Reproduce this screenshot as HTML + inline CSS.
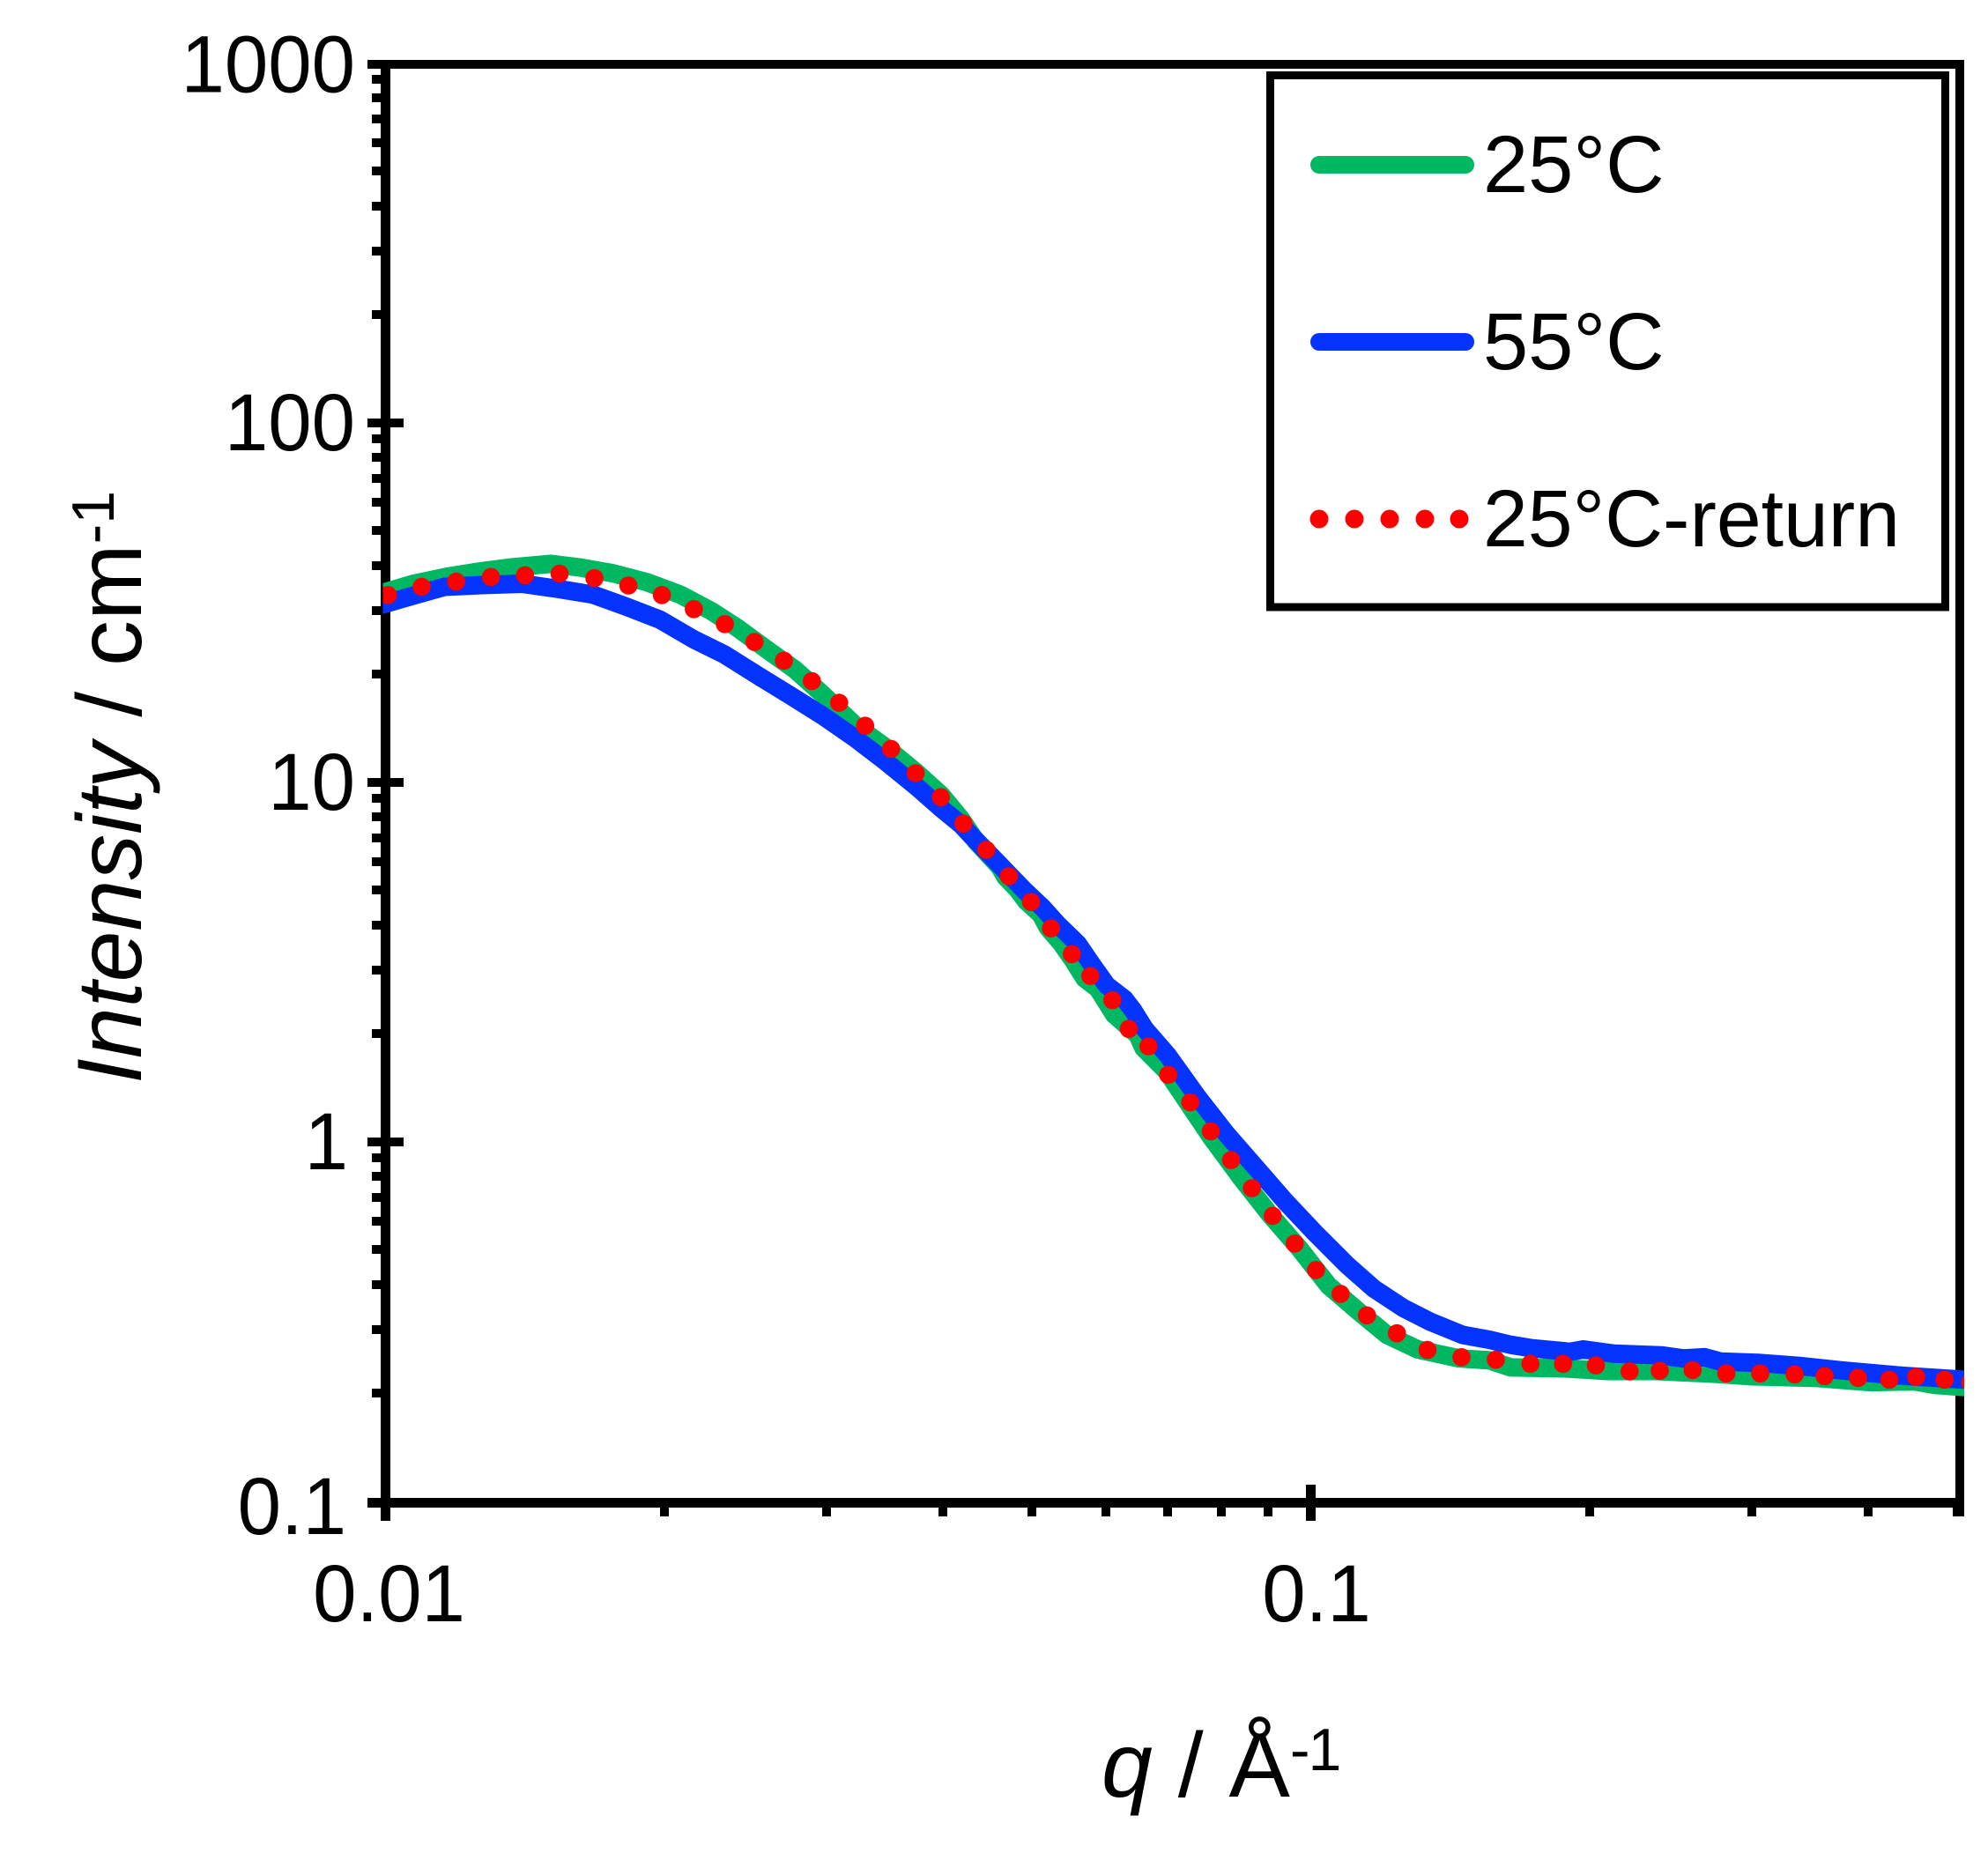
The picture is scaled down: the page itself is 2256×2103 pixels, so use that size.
<!DOCTYPE html>
<html lang="en">
<head>
<meta charset="utf-8">
<title>Scattering intensity versus q</title>
<style>
html,body{margin:0;padding:0;background:#fff;}
svg{display:block;}
text{font-family:"Liberation Sans",Arial,sans-serif;fill:#000;}
</style>
</head>
<body>
<svg id="chart" xmlns="http://www.w3.org/2000/svg" width="2256" height="2103" viewBox="0 0 2256 2103">
  <rect x="0" y="0" width="2256" height="2103" fill="#ffffff"/>
  <defs>
    <clipPath id="plot-clip"><rect x="434.5" y="60" width="1794.5" height="1660"/></clipPath>
  </defs>
  <g id="axes"></g>
  <g id="series" clip-path="url(#plot-clip)"></g>

  <g>
    <rect x="1441.5" y="85.5" width="766" height="603.5" fill="#ffffff" stroke="#000" stroke-width="9"/>
    <g>
      <line x1="1497" y1="187" x2="1663" y2="187" stroke="#00b862" stroke-width="20" stroke-linecap="round"/>
      <text x="1683" y="218" font-size="92">25°C</text>
    </g>
    <g>
      <line x1="1497" y1="388" x2="1663" y2="388" stroke="#0432ff" stroke-width="20" stroke-linecap="round"/>
      <text x="1683" y="419" font-size="92">55°C</text>
    </g>
    <g>
      <g fill="#ff0000">
        <circle cx="1497" cy="589" r="10.5"/>
        <circle cx="1537" cy="589" r="10.5"/>
        <circle cx="1577" cy="589" r="10.5"/>
        <circle cx="1617" cy="589" r="10.5"/>
        <circle cx="1656" cy="589" r="10.5"/>
      </g>
      <text x="1683" y="620" font-size="92" textLength="473" lengthAdjust="spacingAndGlyphs">25°C-return</text>
    </g>
  </g>

  <text transform="translate(160,1230) rotate(-90)" font-size="104"><tspan font-style="italic">Intensity</tspan> / cm<tspan font-size="68" dy="-31">-1</tspan></text>
  <text x="1250" y="2039" font-size="104"><tspan font-style="italic">q</tspan> / Å<tspan font-size="68" dy="-30" letter-spacing="-2">-1</tspan></text>
</svg>

<script>
// ---- data ----
const q25 = [0.00979,0.01073,0.01167,0.01270,0.01369,0.01508,0.01619,0.01761,0.01915,0.02082,0.02246,0.02402,0.02591,0.02769,0.02963,0.03222,0.03475,0.03740,0.03985,0.04192,0.04348,0.04610,0.04677,0.04816,0.04923,0.05106,0.05201,0.05374,0.05534,0.05698,0.05888,0.06131,0.06499,0.06595,0.06993,0.07360,0.07803,0.08395,0.09030,0.09716,0.1045,0.1127,0.1209,0.1305,0.1447,0.1559,0.1645,0.1881,0.2093,0.2361,0.2697,0.3003,0.3525,0.4029,0.4487,0.4728,0.5207];
const intensity25 = [33.6,36.0,37.7,39.0,40.0,40.9,40.0,38.5,36.4,33.6,30.3,27.1,23.5,20.8,17.8,14.5,12.6,10.8,9.32,7.96,6.91,5.87,5.50,5.09,4.72,4.33,3.97,3.60,3.23,2.87,2.69,2.28,2.00,1.84,1.58,1.30,1.04,0.805,0.634,0.510,0.402,0.340,0.293,0.267,0.252,0.249,0.238,0.2365,0.2325,0.2325,0.2288,0.2248,0.2223,0.2166,0.2177,0.2127,0.2088];

const q55 = [0.00979,0.01073,0.01158,0.01270,0.01404,0.01540,0.01675,0.01821,0.01980,0.02154,0.02323,0.02526,0.02748,0.02963,0.03222,0.03475,0.03756,0.03983,0.04189,0.04303,0.04596,0.04908,0.05128,0.05323,0.05598,0.05811,0.06019,0.06289,0.06428,0.06615,0.07011,0.07545,0.08110,0.08730,0.09395,0.1010,0.1095,0.1170,0.1259,0.1346,0.1459,0.1559,0.1645,0.1736,0.1906,0.1971,0.2122,0.2391,0.2525,0.2662,0.2772,0.3043,0.3388,0.3769,0.4310,0.5207];
const intensity55 = [31.2,33.4,35.3,35.7,36.0,34.8,33.6,31.1,28.6,25.2,22.9,20.0,17.5,15.5,13.35,11.5,9.77,8.56,7.69,7.14,6.00,5.04,4.53,4.07,3.59,3.12,2.75,2.52,2.34,2.08,1.75,1.345,1.06,0.853,0.687,0.564,0.458,0.394,0.348,0.319,0.293,0.284,0.275,0.269,0.263,0.267,0.260,0.257,0.252,0.254,0.247,0.245,0.240,0.233,0.226,0.219];

const qReturn = [0.01006,0.01094,0.01192,0.01300,0.01415,0.01542,0.01682,0.01830,0.01989,0.02154,0.02327,0.02505,0.02695,0.02889,0.03092,0.03299,0.03519,0.03740,0.03983,0.04213,0.04460,0.04718,0.04985,0.05239,0.05517,0.05777,0.06103,0.06358,0.06677,0.07013,0.07409,0.07796,0.08200,0.08637,0.09096,0.09608,0.1013,0.1077,0.1150,0.1239,0.1337,0.1455,0.1585,0.1727,0.1873,0.2033,0.2211,0.2383,0.2586,0.2812,0.3060,0.3334,0.3592,0.3903,0.4219,0.4511,0.4841,0.516];
const intensityReturn = [33.5,35.3,36.5,37.6,38.0,38.4,37.3,35.6,33.5,30.6,27.8,24.8,22.0,19.3,16.8,14.5,12.5,10.7,9.18,7.75,6.55,5.53,4.69,3.96,3.36,2.92,2.50,2.08,1.86,1.55,1.30,1.08,0.898,0.750,0.628,0.526,0.444,0.381,0.332,0.296,0.266,0.254,0.250,0.2435,0.2435,0.241,0.232,0.233,0.234,0.229,0.229,0.2275,0.225,0.2225,0.220,0.224,0.220,0.216];

const yMajorValues = [1000,100,10,1,0.1];
const yTickLabels = ["1000","100","10","1","0.1"];
const xMajorValues = [0.01,0.1];
const xTickLabels = ["0.01","0.1"];
const yMinorValues = [900,800,700,600,500,400,300,200,90,80,70,60,50,40,30,20,9,8,7,6,5,4,3,2,0.9,0.8,0.7,0.6,0.5,0.4,0.3,0.2];
const xMinorValues = [0.02,0.03,0.04,0.05,0.06,0.07,0.08,0.09,0.2,0.3,0.4,0.5];

// ---- axis functions ----
function xScale(q){ return 437.5 + 1050 * (Math.log10(q) + 2); }
function yScale(v){ return 1705.5 - 408 * (Math.log10(v) + 1); }
function yTickPos(v){ return yScale(v) - 2; }

const SVG_NS = "http://www.w3.org/2000/svg";
const axes = document.getElementById("axes");
const seriesLayer = document.getElementById("series");

function makeRect(x1, y1, x2, y2){
  const r = document.createElementNS(SVG_NS, "rect");
  r.setAttribute("x", x1);
  r.setAttribute("y", y1);
  r.setAttribute("width", x2 - x1);
  r.setAttribute("height", y2 - y1);
  r.setAttribute("fill", "#000");
  r.setAttribute("shape-rendering", "crispEdges");
  axes.appendChild(r);
  return r;
}
function makeLabel(str, x, y, anchor){
  const t = document.createElementNS(SVG_NS, "text");
  t.setAttribute("transform", "translate(" + x + "," + y + ") scale(0.965,1)");
  t.setAttribute("text-anchor", anchor);
  t.setAttribute("font-size", "92");
  t.textContent = str;
  axes.appendChild(t);
  return t;
}

// frame
const axisTop = makeRect(417, 68, 2229, 78);


const axisBottom = makeRect(417, 1700, 2229, 1711);


const axisLeft = makeRect(432, 68, 443, 1726);


const axisRight = makeRect(2219, 68, 2229, 1721);



// y ticks
yMinorValues.forEach(function(v){
  const y = yTickPos(v);
  const tick = makeRect(422, Math.round(y - 5), 432, Math.round(y - 5) + 10);
  
  
});
yMajorValues.forEach(function(v, i){
  const isFirst = i === 0;
  const isLast = i === yMajorValues.length - 1;
  const y = yTickPos(v);
  if (!isFirst && !isLast) {
    const tick = makeRect(417, Math.round(y - 5), 458, Math.round(y - 5) + 10);
    
    
  }
  const labelY = isFirst ? y + 33 : (isLast ? y + 37.5 : y + 31.5);
  const labelX = isLast ? 393 : (yTickLabels[i] === "1" ? 395 : 403);
  const label = makeLabel(yTickLabels[i], labelX, labelY, "end");
  
  
});

// x ticks
xMinorValues.forEach(function(v){
  const x = xScale(v);
  const tick = makeRect(Math.round(x - 5), 1711, Math.round(x - 5) + 10, 1721);
  
  
});
xMajorValues.forEach(function(v, i){
  const x = xScale(v);
  const top = i === 0 ? 1700 : 1685;
  const tick = makeRect(Math.round(x - 5.5), top, Math.round(x - 5.5) + 11, 1726);
  
  
  const label = makeLabel(xTickLabels[i], x + (i === 0 ? 4 : 6.5), 1840, "middle");
  
  
});

// series
function pathFrom(qs, vals){
  return qs.map(function(q, i){
    return (i ? "L" : "M") + xScale(q).toFixed(1) + " " + yScale(vals[i]).toFixed(1);
  }).join(" ");
}
function drawLine(qs, vals, color){
  const p = document.createElementNS(SVG_NS, "path");
  p.setAttribute("d", pathFrom(qs, vals));
  p.setAttribute("fill", "none");
  p.setAttribute("stroke", color);
  p.setAttribute("stroke-width", "21");
  p.setAttribute("stroke-linejoin", "round");
  p.setAttribute("stroke-linecap", "round");
  seriesLayer.appendChild(p);
  return p;
}

const line25 = drawLine(q25, intensity25, "#00b862");


const line55 = drawLine(q55, intensity55, "#0432ff");



qReturn.forEach(function(q, i){
  const dot = document.createElementNS(SVG_NS, "circle");
  dot.setAttribute("cx", xScale(q).toFixed(1));
  dot.setAttribute("cy", yScale(intensityReturn[i]).toFixed(1));
  dot.setAttribute("r", "10.3");
  dot.setAttribute("fill", "#ff0000");
  
  
  seriesLayer.appendChild(dot);
});
</script>
</body>
</html>
